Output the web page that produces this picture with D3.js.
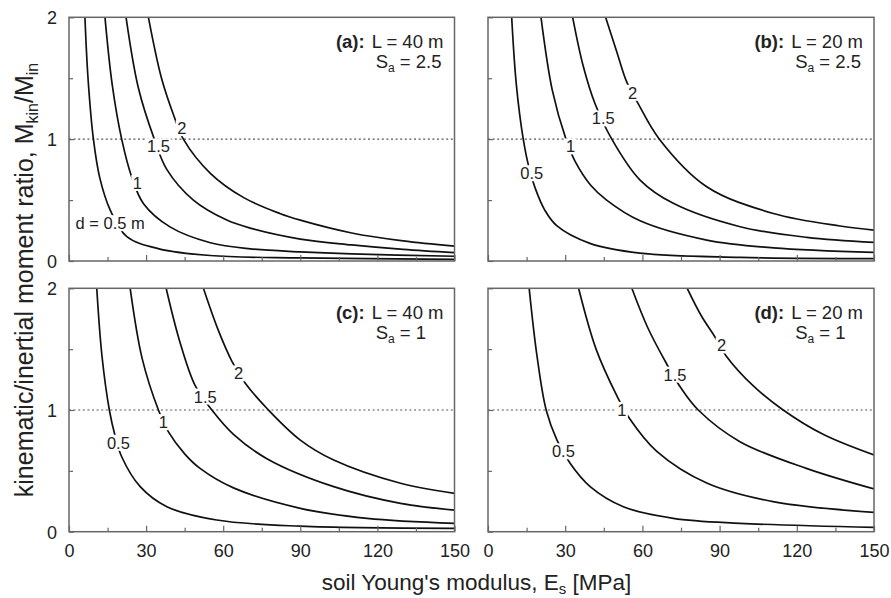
<!DOCTYPE html>
<html><head><meta charset="utf-8">
<script src="https://cdn.jsdelivr.net/npm/d3@7"></script>
<style>
body{margin:0;background:#fff;}
svg{display:block;font-family:"Liberation Sans", Arial, sans-serif;}
</style></head><body>
<svg id="chart" width="891" height="598"></svg>
<script>
// ---------- data ----------
const xTicksMajor = [0, 30, 60, 90, 120, 150];
const xTicksMinor = [15, 45, 75, 105, 135];
const yTicksMajor = [0, 1, 2];
const yTicksMinor = [0.5, 1.5];
const refRatio = 1;
const diameters = ["0.5", "1", "1.5", "2"];
const textsA = ["d = 0.5 m", "1", "1.5", "2"];
const panelTags = ["(a):", "(b):", "(c):", "(d):"];
const panelL = ["L = 40 m", "L = 20 m", "L = 40 m", "L = 20 m"];
const panelSa = ["2.5", "2.5", "1", "1"];

// [E_s (MPa), M_kin/M_in]
const a_d05 = [[6.2,2],[7.4,1.5],[9.5,1],[12,0.68],[16,0.42],[22.5,0.2],[35,0.1],[55,0.045],[90,0.025],[150,0.014]];
const a_d1  = [[14,2],[16.8,1.45],[20.5,1],[24.4,0.69],[29,0.47],[39.3,0.28],[55,0.15],[70.5,0.1],[90,0.075],[110,0.058],[150,0.039]];
const a_d15 = [[22.2,2],[27,1.42],[33.2,1],[38.1,0.75],[48.4,0.5],[61.4,0.336],[70.5,0.27],[90,0.18],[110,0.132],[130,0.095],[150,0.068]];
const a_d2  = [[30.9,2],[36,1.5],[41,1.18],[44.5,1],[55,0.72],[68,0.52],[82,0.39],[90,0.335],[110,0.23],[130,0.165],[150,0.122]];

const b_d05 = [[9.2,2],[11,1.45],[13.7,1],[16,0.76],[18.3,0.6],[22,0.42],[26.7,0.29],[39.6,0.145],[59,0.065],[98,0.03],[150,0.02]];
const b_d1  = [[20.6,2],[25,1.4],[30.3,1],[33.8,0.82],[40,0.62],[46.1,0.5],[59.1,0.33],[85,0.172],[110.9,0.108],[150,0.071]];
const b_d15 = [[32.9,2],[37,1.6],[41.6,1.29],[48.1,1],[59.1,0.664],[72,0.473],[98,0.281],[123.9,0.194],[150,0.153]];
const b_d2  = [[45.7,2],[50,1.72],[53.9,1.47],[58.4,1.29],[66.6,1],[85,0.61],[110.9,0.39],[136.8,0.287],[150,0.254]];

const c_d05 = [[10.8,2],[12.8,1.45],[15.7,1],[17.9,0.79],[20.5,0.616],[27.7,0.37],[38.1,0.205],[57.5,0.096],[90,0.045],[150,0.028]];
const c_d1  = [[23.8,2],[28.5,1.42],[34.8,1],[38.7,0.82],[45,0.64],[51,0.52],[64,0.36],[90,0.192],[116,0.11],[150,0.069]];
const c_d15 = [[37.8,2],[43,1.57],[49.1,1.2],[55.6,1],[64,0.8],[77,0.6],[103,0.37],[129,0.233],[150,0.178]];
const c_d2  = [[52.3,2],[58,1.66],[63.4,1.4],[68.6,1.22],[77.6,1],[90,0.753],[103,0.589],[129,0.398],[150,0.315]];

const d_d05 = [[16,2],[19,1.45],[22.6,1],[26.8,0.753],[31.9,0.562],[39.7,0.37],[52.6,0.205],[72,0.11],[97.9,0.069],[150,0.036]];
const d_d1  = [[35.2,2],[42,1.5],[50,1.12],[55,0.93],[65.6,0.66],[85,0.4],[110.8,0.247],[150,0.159]];
const d_d15 = [[55.9,2],[62,1.68],[69.4,1.38],[75,1.18],[81.7,1],[97.9,0.74],[123.7,0.52],[150,0.351]];
const d_d2  = [[77.4,2],[83,1.77],[88.2,1.6],[92.7,1.44],[103,1.2],[114.7,1],[130.2,0.8],[150,0.63]];

// curve-label anchor points [E_s, ratio]
const labelsA = [[16,0.31],[26.6,0.64],[34.8,0.94],[43.9,1.09]];
const labelsB = [[17,0.72],[32.1,0.94],[44.8,1.17],[56.2,1.38]];
const labelsC = [[19.2,0.73],[36.7,0.9],[53,1.11],[66,1.3]];
const labelsD = [[29.3,0.66],[52,1.0],[72.7,1.29],[90.8,1.53]];

// ---------- layout ----------
const cols = [[69, 454.5], [488, 874]];
const rows = [[17.3, 261], [288.3, 531.7]];
const panels = [
  {curves:[a_d05,a_d1,a_d15,a_d2], labels:labelsA, texts:textsA, c:0, r:0},
  {curves:[b_d05,b_d1,b_d15,b_d2], labels:labelsB, texts:diameters, c:1, r:0},
  {curves:[c_d05,c_d1,c_d15,c_d2], labels:labelsC, texts:diameters, c:0, r:1},
  {curves:[d_d05,d_d1,d_d15,d_d2], labels:labelsD, texts:diameters, c:1, r:1}
];

const svg = d3.select("#chart");
const frameCol = "#666";
const textCol = "#222";

panels.forEach((p, i) => {
  const [x0, x1] = cols[p.c];
  const [y0, y1] = rows[p.r];
  const w = x1 - x0, h = y1 - y0;
  const x = d3.scaleLinear().domain([0, 150]).range([0, w]);
  const y = d3.scaleLinear().domain([0, 2]).range([h, 0]);
  const g = svg.append("g").attr("transform", `translate(${x0},${y0})`);

  g.append("clipPath").attr("id", "clip" + i)
    .append("rect").attr("width", w).attr("height", h);

  // reference line
  g.append("line")
    .attr("x1", x(0)).attr("x2", x(150))
    .attr("y1", y(refRatio)).attr("y2", y(refRatio))
    .attr("stroke", "#555").attr("stroke-width", 1.2)
    .attr("stroke-dasharray", "2,2.6");

  // curves
  const line = d3.line().x(d => x(d[0])).y(d => y(d[1])).curve(d3.curveCatmullRom.alpha(0.5));
  const cg = g.append("g").attr("clip-path", `url(#clip${i})`);
  p.curves.forEach(c => {
    cg.append("path").attr("d", line(c))
      .attr("fill", "none").attr("stroke", "#111").attr("stroke-width", 1.7);
  });

  // axes (inward ticks)
  const bottom = p.r === 1;
  const left = p.c === 0;
  const axB = g.append("g").attr("transform", `translate(0,${h})`)
    .call(d3.axisBottom(x).tickValues(xTicksMajor).tickSizeInner(-6).tickSizeOuter(0)
      .tickPadding(13).tickFormat(bottom ? d3.format("d") : () => ""));
  const axBm = g.append("g").attr("transform", `translate(0,${h})`)
    .call(d3.axisBottom(x).tickValues(xTicksMinor).tickSizeInner(-4).tickSizeOuter(0).tickFormat(() => ""));
  const axL = g.append("g")
    .call(d3.axisLeft(y).tickValues(yTicksMajor).tickSizeInner(-5).tickSizeOuter(0)
      .tickPadding(12).tickFormat(left ? d3.format("d") : () => ""));
  const axLm = g.append("g")
    .call(d3.axisLeft(y).tickValues(yTicksMinor).tickSizeInner(-4).tickSizeOuter(0).tickFormat(() => ""));
  [axB, axBm, axL, axLm].forEach(a => {
    a.select(".domain").remove();
    a.selectAll("line").attr("stroke", frameCol).attr("stroke-width", 1.2);
    a.selectAll("text").attr("fill", textCol).attr("font-size", 18)
      .attr("font-family", '"Liberation Sans", Arial, sans-serif');
  });
  axL.selectAll("text").attr("dy", "0.36em");

  // frame
  g.append("rect").attr("width", w).attr("height", h)
    .attr("fill", "none").attr("stroke", frameCol).attr("stroke-width", 1.5);

  // curve labels with white knock-out
  p.labels.forEach((lp, k) => {
    const lg = g.append("g");
    const t = lg.append("text")
      .attr("x", x(lp[0])).attr("y", y(lp[1]))
      .attr("dy", "0.36em").attr("text-anchor", "middle")
      .attr("font-size", 16.5).attr("fill", textCol)
      .text(p.texts[k]);
    const bb = t.node().getBBox();
    lg.insert("rect", "text")
      .attr("x", bb.x - 1.5).attr("y", bb.y + 1)
      .attr("width", bb.width + 3).attr("height", bb.height - 2)
      .attr("fill", "#fff");
  });

  // panel annotation
  const lt = g.append("text").attr("x", w - 11).attr("y", 31)
    .attr("text-anchor", "end").attr("font-size", 18.5).attr("fill", textCol)
    .text(panelL[i]);
  const lStart = w - 11 - lt.node().getComputedTextLength();
  g.append("text").attr("x", lStart - 7).attr("y", 31)
    .attr("text-anchor", "end").attr("font-size", 18.5).attr("font-weight", "bold")
    .attr("fill", textCol).text(panelTags[i]);
  const st = g.append("text").attr("x", lStart + 4).attr("y", 51)
    .attr("font-size", 18.5).attr("fill", textCol);
  st.append("tspan").text("S");
  st.append("tspan").attr("dy", 4).attr("font-size", 12).text("a");
  st.append("tspan").attr("dy", -4).text(" = " + panelSa[i]);
});

// axis titles
const xt = svg.append("text").attr("x", 476.5).attr("y", 590)
  .attr("text-anchor", "middle").attr("font-size", 22.5).attr("fill", textCol);
xt.append("tspan").text("soil Young's modulus, E");
xt.append("tspan").attr("dy", 4).attr("font-size", 15).text("s");
xt.append("tspan").attr("dy", -4).text(" [MPa]");

const yt = svg.append("text").attr("transform", "translate(33,280) rotate(-90)")
  .attr("text-anchor", "middle").attr("font-size", 25).attr("fill", textCol);
yt.append("tspan").text("kinematic/inertial moment ratio, M");
yt.append("tspan").attr("dy", 5).attr("font-size", 16).text("kin");
yt.append("tspan").attr("dy", -5).text("/M");
yt.append("tspan").attr("dy", 5).attr("font-size", 16).text("in");
</script>
</body></html>
